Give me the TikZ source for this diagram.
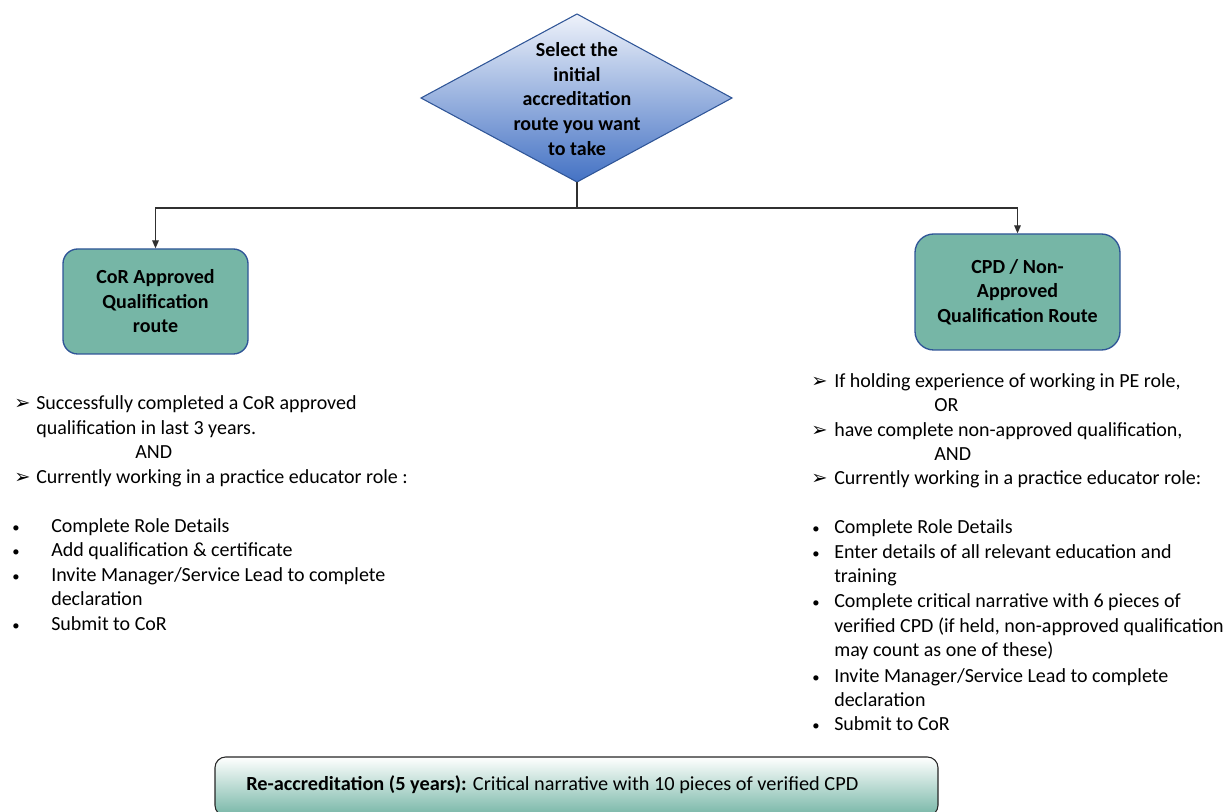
\documentclass[tikz,border=0pt]{standalone}
\usepackage{fontspec}
\usepackage{graphicx}
\setmainfont{Carlito}
\newfontfamily\djv{DejaVu Sans}
\usetikzlibrary{arrows.meta,calc}
\definecolor{teal1}{HTML}{76B6A6}
\definecolor{bordblue}{HTML}{2F5597}
\definecolor{diatop}{HTML}{EEF2FA}
\definecolor{diabot}{HTML}{4472C4}
\definecolor{lnk}{HTML}{303030}
\newcommand{\arr}{{\djv\fontsize{14.5}{14.5}\selectfont ➢}}
\newcommand{\bul}{{\fontsize{11}{11}\selectfont •}}
\tikzset{
  routebox/.style={draw=bordblue, line width=1pt, fill=teal1, rounded corners=11pt, align=center,
     font=\bfseries\fontsize{15}{18.4}\selectfont, inner sep=0pt},
  txt/.style={anchor=base west, inner sep=0pt, font=\fontsize{15}{18}\selectfont},
  mk/.style={anchor=base west, inner sep=0pt},
  link/.style={draw=lnk, line width=0.8pt},
  tip/.style={-{Triangle[length=6pt,width=5pt]}}
}
\begin{document}
\begin{tikzpicture}[x=0.75pt,y=-0.75pt]
\useasboundingbox (0,0) rectangle (1232,812);
\begin{scope}
\clip (0,0) rectangle (1232,812);
% diamond
\coordinate (dtop) at (577,14);
\coordinate (dbot) at (577,182);
\coordinate (dleft) at (421,98);
\coordinate (dright) at (732,98);
\path[top color=diatop, bottom color=diabot, draw=bordblue, line width=0.8pt]
  (dtop) -- (dright) -- (dbot) -- (dleft) -- cycle;
\node[align=center, inner sep=0pt, font=\bfseries\fontsize{15}{18.5}\selectfont] (dtext) at (577,99)
  {Select the\\initial\\accreditation\\route you want\\to take};
% route boxes
\node[routebox, minimum width=138.75pt, minimum height=78.75pt] (cor) at (155.5,301.5)
  {CoR Approved\\Qualification\\route};
\node[routebox, minimum width=153.75pt, minimum height=87pt, rounded corners=14pt] (cpd) at (1017.5,292)
  {CPD / Non-\\Approved\\Qualification Route};
% connectors
\coordinate (split) at (577,208);
\draw[link] (dbot) -- (split);
\draw[link, tip] (split) -| (cor.north);
\draw[link, tip] (split) -| (cpd.north);
% left text
\node[mk] (la1) at (14,410) {\arr};
\node[txt] (l1) at (36,410) {Successfully completed a CoR approved};
\node[txt] (l2) at (36,435) {qualification in last 3 years.};
\node[txt] (l3) at (135,459) {AND};
\node[mk] (la2) at (14,484) {\arr};
\node[txt] (l4) at (36,484) {Currently working in a practice educator role :};
\node[txt] (lb1) at (12,533) {\bul};
\node[txt] (l5) at (51,533) {Complete Role Details};
\node[txt] (lb2) at (12,557) {\bul};
\node[txt] (l6) at (51,557) {Add qualification \& certificate};
\node[txt] (lb3) at (12,582) {\bul};
\node[txt] (l7) at (51,582) {Invite Manager/Service Lead to complete};
\node[txt] (l8) at (51,606) {declaration};
\node[txt] (lb4) at (12,630) {\bul};
\node[txt] (l9) at (51,630) {Submit to CoR};
% right text
\node[mk] (ra1) at (811,388) {\arr};
\node[txt] (r1) at (834,388) {If holding experience of working in PE role,};
\node[txt] (r2) at (934,412) {OR};
\node[mk] (ra2) at (811,437) {\arr};
\node[txt] (r3) at (834,437) {have complete non-approved qualification,};
\node[txt] (r4) at (934,461) {AND};
\node[mk] (ra3) at (811,485) {\arr};
\node[txt] (r5) at (834,485) {Currently working in a practice educator role:};
\node[txt] (rb1) at (812,534) {\bul};
\node[txt] (r6) at (834,534) {Complete Role Details};
\node[txt] (rb2) at (812,559) {\bul};
\node[txt] (r7) at (834,559) {Enter details of all relevant education and};
\node[txt] (r8) at (834,583) {training};
\node[txt] (rb3) at (812,608) {\bul};
\node[txt] (r9) at (834,608) {Complete critical narrative with 6 pieces of};
\node[txt] (r10) at (834,633) {verified CPD (if held, non-approved qualification};
\node[txt] (r11) at (834,657) {may count as one of these)};
\node[txt] (rb4) at (812,682) {\bul};
\node[txt] (r12) at (834,682) {Invite Manager/Service Lead to complete};
\node[txt] (r13) at (834,706) {declaration};
\node[txt] (rb5) at (812,730) {\bul};
\node[txt] (r14) at (834,730) {Submit to CoR};
% bottom box
\path[draw=black!85, line width=0.8pt, top color=white, bottom color=teal1, rounded corners=8pt]
  (215,757) rectangle (938,816);
\node[txt] (bottom) at (246,790) {\resizebox{459pt}{\height}{\textbf{Re-accreditation (5 years):} Critical narrative with 10 pieces of verified CPD}};
\end{scope}
\end{tikzpicture}
\end{document}
